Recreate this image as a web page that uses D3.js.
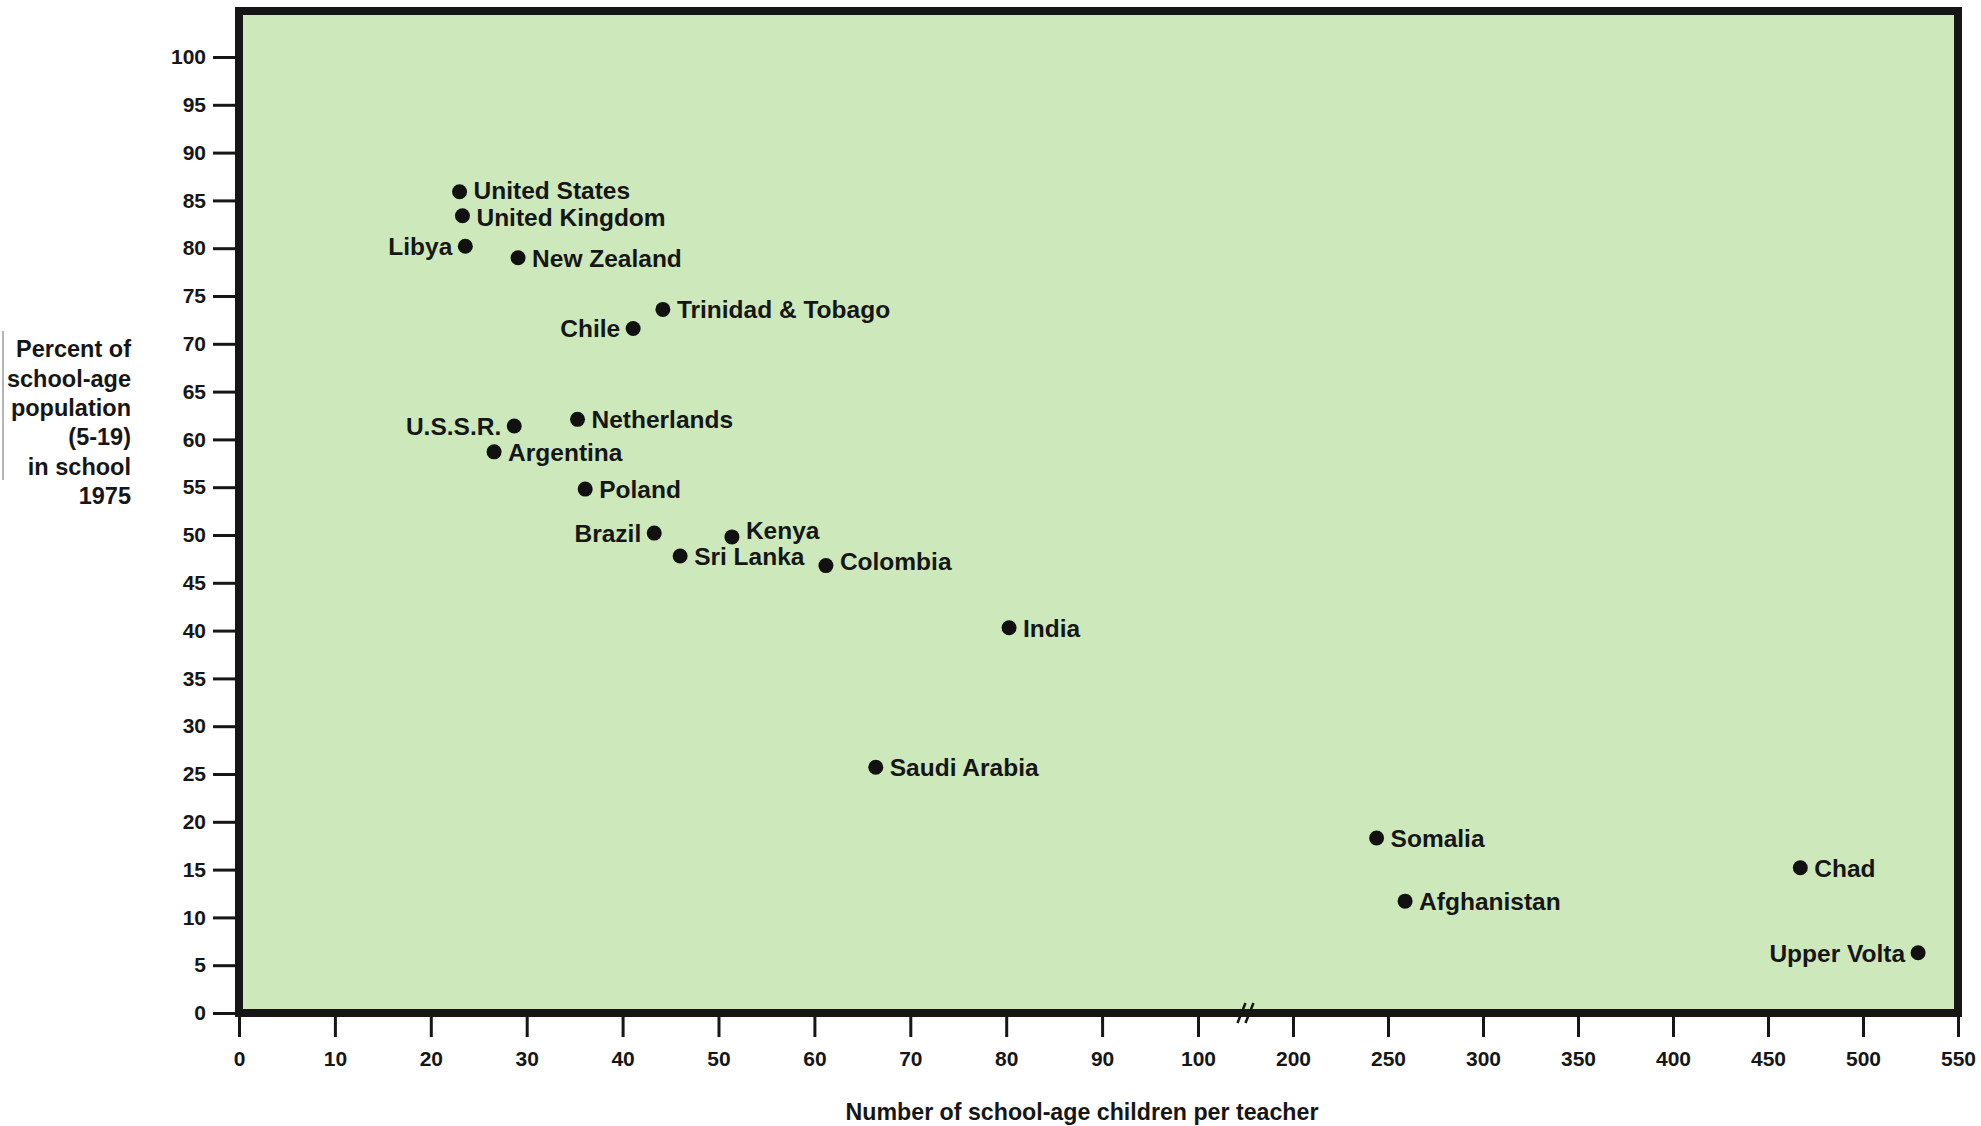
<!DOCTYPE html>
<html>
<head>
<meta charset="utf-8">
<script src="https://cdn.jsdelivr.net/npm/d3@7"></script>
<style>
  html, body { margin: 0; padding: 0; background: #ffffff; }
  svg { display: block; }
  text { font-family: "Liberation Sans", Arial, Helvetica, sans-serif; font-weight: bold; fill: #161616; }
</style>
</head>
<body>
<svg id="chart" width="1981" height="1126"></svg>
<script>
// School enrolment vs. pupil–teacher load, 1975
const countries = [
  "United States", "United Kingdom", "Libya", "New Zealand", "Trinidad & Tobago",
  "Chile", "U.S.S.R.", "Netherlands", "Argentina", "Poland",
  "Brazil", "Kenya", "Sri Lanka", "Colombia", "India",
  "Saudi Arabia", "Somalia", "Afghanistan", "Chad", "Upper Volta"
];
const childrenPerTeacher = [
  23.0, 23.3, 23.6, 29.1, 44.2,
  41.1, 28.7, 35.3, 26.6, 36.1,
  43.3, 51.4, 46.0, 61.2, 80.3,
  66.4, 244, 259, 467, 529
];
const percentInSchool = [
  85.9, 83.4, 80.2, 79.0, 73.6,
  71.6, 61.4, 62.1, 58.7, 54.8,
  50.2, 49.8, 47.8, 46.8, 40.3,
  25.7, 18.3, 11.7, 15.2, 6.3
];
const xTickValues = [0, 10, 20, 30, 40, 50, 60, 70, 80, 90, 100, 200, 250, 300, 350, 400, 450, 500, 550];
const yTickValues = [0, 5, 10, 15, 20, 25, 30, 35, 40, 45, 50, 55, 60, 65, 70, 75, 80, 85, 90, 95, 100];
const yTitleLines = ["Percent of", "school-age", "population", "(5-19)", "in school", "1975"];
const xTitle = "Number of school-age children per teacher";

// Labels placed on the left of their dot, and small vertical nudges
const leftLabelled = new Set(["Libya", "Chile", "U.S.S.R.", "Brazil", "Upper Volta"]);
const labelNudge = { "Kenya": -7, "Colombia": -4, "United States": -2, "United Kingdom": 1 };

const svg = d3.select("#chart");

// Broken x axis: 0–100 on a wide linear stretch, then 200–550 compressed
const plotLeft = 239, plotRight = 1958, plotTop = 11, plotBottom = 1013;
const x = d3.scaleLinear()
  .domain([0, 100, 200, 550])
  .range([plotLeft, 1198, 1293, plotRight]);
const y = d3.scaleLinear()
  .domain([0, 100])
  .range([plotBottom, 57]);

// Plot panel
svg.append("rect")
  .attr("x", plotLeft).attr("y", plotTop)
  .attr("width", plotRight - plotLeft).attr("height", plotBottom - plotTop)
  .attr("fill", "#cde8bb");

// Axes
const yAxis = d3.axisLeft(y).tickValues(yTickValues).tickSize(26).tickPadding(7).tickFormat(d3.format("d"));
const gy = svg.append("g").attr("transform", `translate(${plotLeft},0)`).call(yAxis);
gy.select(".domain").remove();
gy.selectAll(".tick line").attr("stroke", "#161616").attr("stroke-width", 3);
gy.selectAll(".tick text").attr("font-size", 21).attr("fill", "#161616")
  .style("font-family", "'Liberation Sans', Arial, sans-serif").style("font-weight", "bold");

const xAxis = d3.axisBottom(x).tickValues(xTickValues).tickSize(24).tickPadding(14).tickFormat(d3.format("d"));
const gx = svg.append("g").attr("transform", `translate(0,${plotBottom})`).call(xAxis);
gx.select(".domain").remove();
gx.selectAll(".tick line").attr("stroke", "#161616").attr("stroke-width", 3);
gx.selectAll(".tick text").attr("font-size", 21).attr("fill", "#161616")
  .style("font-family", "'Liberation Sans', Arial, sans-serif").style("font-weight", "bold");

// Heavy frame around the panel
svg.append("rect")
  .attr("x", plotLeft).attr("y", plotTop)
  .attr("width", plotRight - plotLeft).attr("height", plotBottom - plotTop)
  .attr("fill", "none").attr("stroke", "#161616").attr("stroke-width", 8);

// Axis break marks between 100 and 200
const bx = (x(100) + x(200)) / 2;
[-4, 4].forEach(off => {
  svg.append("line")
    .attr("x1", bx + off - 4).attr("y1", plotBottom + 10)
    .attr("x2", bx + off + 4).attr("y2", plotBottom - 10)
    .attr("stroke", "#161616").attr("stroke-width", 2.5);
});

// Points and country labels
const points = countries.map((name, i) => ({ name, cx: childrenPerTeacher[i], cy: percentInSchool[i] }));
const g = svg.append("g");
g.selectAll("circle").data(points).join("circle")
  .attr("cx", d => x(d.cx)).attr("cy", d => y(d.cy))
  .attr("r", 7.5).attr("fill", "#111111");
g.selectAll("text").data(points).join("text")
  .attr("x", d => x(d.cx) + (leftLabelled.has(d.name) ? -13 : 14))
  .attr("y", d => y(d.cy) + (labelNudge[d.name] || 0))
  .attr("dy", "0.36em")
  .attr("text-anchor", d => leftLabelled.has(d.name) ? "end" : "start")
  .attr("font-size", 24.5)
  .text(d => d.name);

// Y-axis title, right aligned, with a thin rule at the far left
svg.append("line")
  .attr("x1", 3).attr("x2", 3).attr("y1", 331).attr("y2", 480)
  .attr("stroke", "#b5b5b5").attr("stroke-width", 2);
svg.append("g").selectAll("text").data(yTitleLines).join("text")
  .attr("x", 131).attr("y", (d, i) => 349 + i * 29.3)
  .attr("dy", "0.36em").attr("text-anchor", "end")
  .attr("font-size", 23.5)
  .text(d => d);

// X-axis title
svg.append("text")
  .attr("x", 1082).attr("y", 1112).attr("dy", "0.36em")
  .attr("text-anchor", "middle").attr("font-size", 23.2)
  .text(xTitle);
</script>
</body>
</html>
